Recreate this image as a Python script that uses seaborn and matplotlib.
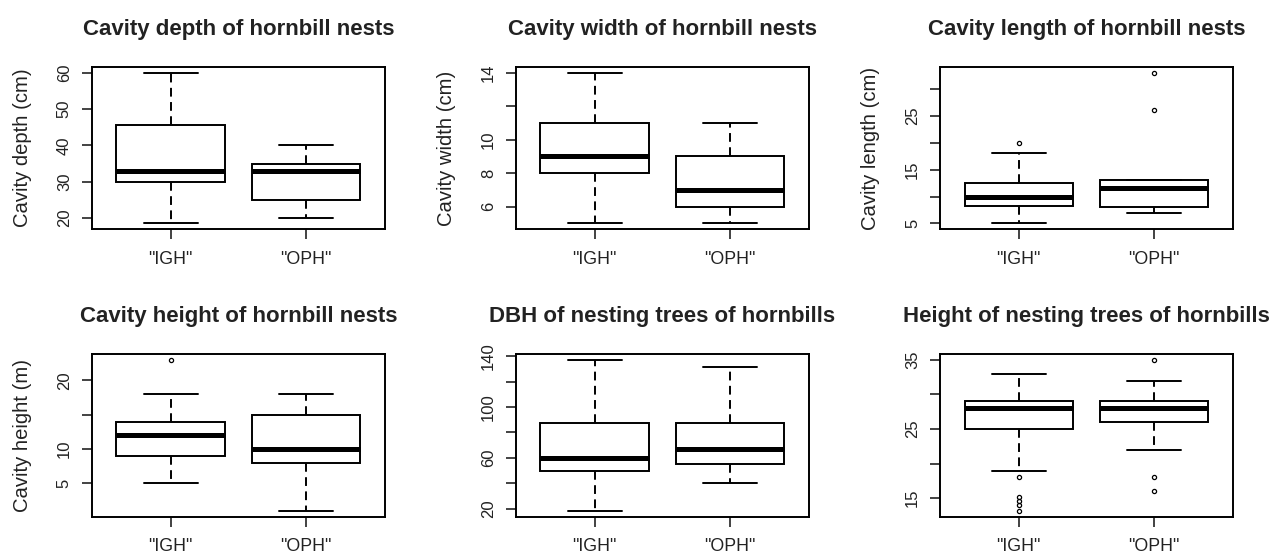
import pandas as pd
import matplotlib.pyplot as plt
import seaborn as sns

# Groups
groups = ['"IGH"', '"OPH"']

# Cavity depth (cm)
depth_igh = [18.5, 26, 30, 32, 33, 40, 45.7, 50, 60]
depth_oph = [20, 23, 25, 30, 33, 34, 35, 38, 40]

# Cavity width (cm)
width_igh = [5, 7, 8, 8.5, 9, 10, 11, 12, 14]
width_oph = [5, 5.5, 6, 6.5, 7, 8, 9, 10, 11]

# Cavity length (cm)
length_igh = [5, 6, 7.5, 8.2, 9, 9.5, 10, 11, 12, 12.5, 15, 18, 20]
length_oph = [7, 7.5, 8, 8, 9, 10, 11.5, 12, 12.5, 13, 13, 26, 33]

# Cavity height (m)
cheight_igh = [5, 7, 9, 10, 12, 13, 14, 18, 23]
cheight_oph = [1, 6, 8, 9, 10, 12, 15, 16, 18]

# DBH of nesting trees
dbh_igh = [18.5, 40, 50, 55, 60, 75, 87.5, 110, 137]
dbh_oph = [40.5, 50, 55.5, 60, 67, 80, 87.5, 100, 131.5]

# Height of nesting trees
theight_igh = [13.2, 14, 14.6, 15.2, 18, 19, 25, 26, 27, 27, 28, 28, 28,
               28, 28, 29, 29, 29, 29, 30, 30, 31, 32, 32, 33]
theight_oph = [16, 18, 22, 26, 27, 28, 28, 28, 29, 29, 29, 32, 35]

titles = ['Cavity depth of hornbill nests', 'Cavity width of hornbill nests',
          'Cavity length of hornbill nests', 'Cavity height of hornbill nests',
          'DBH of nesting trees of hornbills', 'Height of nesting trees of hornbills']
ylabels = ['Cavity depth (cm)', 'Cavity width (cm)', 'Cavity length (cm)',
           'Cavity height (m)', '', '']
yticks = [[20, 30, 40, 50, 60], [6, 8, 10, 12, 14], [5, 10, 15, 20, 25, 30],
          [5, 10, 15, 20], [20, 40, 60, 80, 100, 120, 140], [15, 20, 25, 30, 35]]
yticklabels = [['20', '30', '40', '50', '60'], ['6', '8', '10', '', '14'],
               ['5', '', '15', '', '25', ''], ['5', '10', '', '20'],
               ['20', '', '60', '', '100', '', '140'], ['15', '', '25', '', '35']]
series = [(depth_igh, depth_oph), (width_igh, width_oph), (length_igh, length_oph),
          (cheight_igh, cheight_oph), (dbh_igh, dbh_oph), (theight_igh, theight_oph)]

sns.set_theme(style='ticks')
plt.rcParams['font.family'] = ['Liberation Sans', 'DejaVu Sans']

fig, axes = plt.subplots(2, 3, figsize=(12.71, 5.58), dpi=100)
fig.subplots_adjust(left=0.0724, right=0.970, bottom=0.074, top=0.8805,
                    wspace=0.449, hspace=0.764)

for i, ax in enumerate(axes.flat):
    igh, oph = series[i]
    df = pd.DataFrame({'group': [groups[0]] * len(igh) + [groups[1]] * len(oph),
                       'value': igh + oph})
    sns.boxplot(data=df, x='group', y='value', order=groups, ax=ax, width=0.8,
                color='white', linecolor='black', linewidth=1.4, saturation=1,
                whis=1.5, fliersize=3,
                whiskerprops=dict(linestyle=(0, (4.5, 2.8))),
                medianprops=dict(linewidth=3.6),
                flierprops=dict(marker='o', markerfacecolor='none',
                                markeredgecolor='black', markeredgewidth=0.9))
    ax.set_xlim(-0.58, 1.58)
    ax.margins(y=0.04)
    ax.set_yticks(yticks[i])
    ax.set_yticklabels(yticklabels[i], rotation=90, va='center')
    ax.tick_params(axis='x', length=7.2, width=1.2, pad=8, labelsize=12.8,
                   colors='#222222')
    ax.tick_params(axis='y', length=7, width=1.2, pad=7.5, labelsize=12,
                   colors='#222222')
    for s in ax.spines.values():
        s.set_visible(True)
        s.set_color('black')
        s.set_linewidth(1.4)
    ax.set_xlabel('')
    ax.set_ylabel(ylabels[i], fontsize=14.6, color='#222222')
    ax.yaxis.set_label_coords(-0.205, 0.5)
    ax.set_title(titles[i], fontsize=16, fontweight='bold', pad=23, color='#222222')

plt.savefig('out.png', dpi=100)
plt.close()
